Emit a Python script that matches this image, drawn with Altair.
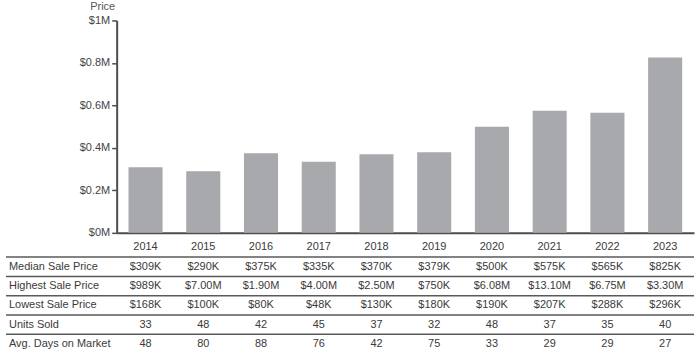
import altair as alt
import pandas as pd

years = [2014, 2015, 2016, 2017, 2018, 2019, 2020, 2021, 2022, 2023]
median_k = [309, 290, 375, 335, 370, 379, 500, 575, 565, 825]
highest = ["$989K", "$7.00M", "$1.90M", "$4.00M", "$2.50M", "$750K", "$6.08M", "$13.10M", "$6.75M", "$3.30M"]
lowest = ["$168K", "$100K", "$80K", "$48K", "$130K", "$180K", "$190K", "$207K", "$288K", "$296K"]
units = [33, 48, 42, 45, 37, 32, 48, 37, 35, 40]
days = [48, 80, 88, 76, 42, 75, 33, 29, 29, 27]
row_names = ["Year", "Median Sale Price", "Highest Sale Price", "Lowest Sale Price",
             "Units Sold", "Avg. Days on Market"]
y_ticks = [0, 200000, 400000, 600000, 800000, 1000000]

FONT = "Liberation Sans"
TXT = "#3a3a3a"
W = 579

year_str = [str(y) for y in years]
bars_df = pd.DataFrame({"year": year_str, "price": [m * 1000 for m in median_k]})

cells = []
for i, y in enumerate(years):
    vals = [str(y), f"${median_k[i]}K", highest[i], lowest[i], str(units[i]), str(days[i])]
    for r, v in zip(row_names, vals):
        cells.append({"year": str(y), "row": r, "text": v})
cells_df = pd.DataFrame(cells)
labels_df = pd.DataFrame({"row": row_names, "label": [""] + row_names[1:]})

xscale = alt.Scale(domain=year_str, paddingInner=0.41, paddingOuter=0.205)
yscale = alt.Scale(domain=row_names, paddingInner=0, paddingOuter=0)

bars = alt.Chart(bars_df).mark_bar(color="#a8a9ad").encode(
    x=alt.X("year:N", scale=xscale,
            axis=alt.Axis(labels=False, ticks=False, title=None,
                          domainColor="#4d4d4d", domainWidth=2)),
    y=alt.Y("price:Q", scale=alt.Scale(domain=[0, 1000000]),
            axis=alt.Axis(values=y_ticks,
                          labelExpr="'$' + format(datum.value / 1000000, '~g') + 'M'",
                          title="Price", titleAngle=0, titleAlign="right",
                          titleX=-2, titleY=-11, titleBaseline="alphabetic",
                          titleFont=FONT, titleFontSize=11, titleFontWeight="normal",
                          titleColor="#555555",
                          labelFont=FONT, labelFontSize=11, labelColor="#444444",
                          labelPadding=2, tickSize=5, tickColor="#4d4d4d", tickWidth=1.5,
                          domainColor="#4d4d4d", domainWidth=2, grid=False)),
).properties(width=W, height=213)

cell_text = alt.Chart(cells_df).mark_text(fontSize=11, color=TXT, font=FONT).encode(
    x=alt.X("year:N", scale=xscale, axis=None),
    y=alt.Y("row:N", scale=yscale, axis=None),
    text="text:N",
)
row_text = alt.Chart(labels_df).mark_text(align="left", fontSize=11, color=TXT, font=FONT).encode(
    x=alt.value(-108),
    y=alt.Y("row:N", scale=yscale, axis=None),
    text="label:N",
)
rules = alt.Chart(labels_df).mark_rule(color="#5a5a5a", strokeWidth=1.5).encode(
    y=alt.Y("row:N", scale=yscale, axis=None, bandPosition=1),
    x=alt.value(-111),
    x2=alt.value(W),
)
table = alt.layer(rules, cell_text, row_text).properties(width=W, height=116)

chart = alt.vconcat(bars, table, spacing=0).properties(
    padding={"left": 5, "top": 0, "right": 5, "bottom": 0},
    background="white",
).configure_view(stroke=None)

chart.save("out.html", embed_options={"renderer": "svg", "actions": False})
